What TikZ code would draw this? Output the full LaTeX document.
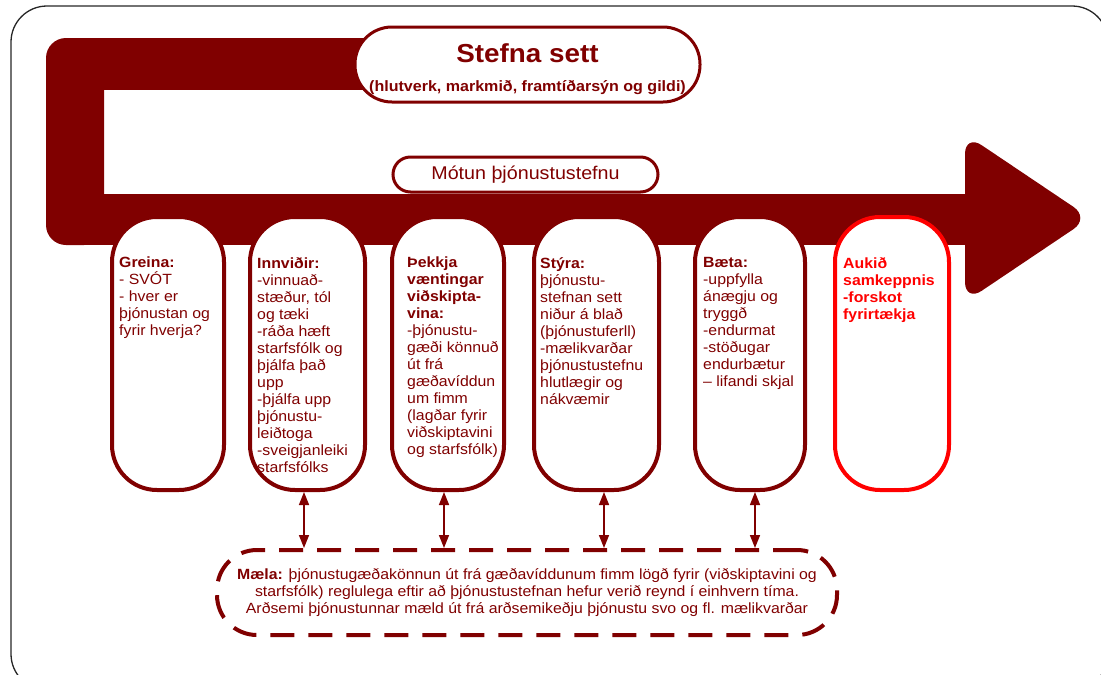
\documentclass[tikz,border=0pt]{standalone}
\usepackage{fontspec}
\setmainfont{Liberation Sans}[FakeStretch=1.07]
\usetikzlibrary{arrows.meta}
\definecolor{maroon}{RGB}{128,0,0}
\definecolor{brightred}{RGB}{255,0,0}
\begin{document}
\begin{tikzpicture}[x=1pt,y=-1pt,
  colbox/.style={draw=maroon, line width=4pt, fill=white, rounded corners=45pt, anchor=north west, inner sep=0pt, minimum height=273pt},
  coltext/.style={anchor=north west, inner sep=0pt, align=left, text=maroon, font=\fontsize{14.8}{17}\selectfont},
  dbl/.style={maroon, line width=1.5pt, {Triangle[length=13pt,width=10pt]}-{Triangle[length=13pt,width=10pt]}},
  pill/.style={draw=maroon, line width=3pt, fill=white},
  dashbox/.style={draw=maroon, line width=4pt, dash pattern=on 24pt off 14pt, rounded corners=40pt, minimum width=620pt, minimum height=85pt, align=center, text=maroon, font=\fontsize{14.8}{17}\selectfont}
]
\useasboundingbox (0,0) rectangle (1101,675);
% outer frame
\draw[line width=1.3pt, draw=black!85, rounded corners=36pt] (11,6) rectangle (1108,690);
% band
\fill[maroon, rounded corners=20pt] (46,38) rectangle (104,245);
\fill[maroon] (80,38) rectangle (400,90);
\fill[maroon] (80,194) rectangle (975,245);
\fill[maroon, rounded corners=20pt] (965,134) -- (1090,218) -- (965,302) -- cycle;
% top pill
\node[pill, rounded corners=37pt, minimum width=345pt, minimum height=75pt] (stefna) at (527.5,64.5) {};
\node[anchor=base, inner sep=0pt, text=maroon, font=\fontsize{26}{28}\selectfont\bfseries] (stefnaT) at (527.5,62) {Stefna sett};
\node[anchor=base, inner sep=0pt, text=maroon, font=\fontsize{15}{17}\selectfont\bfseries] (stefnaS) at (527.5,91) {(hlutverk, markmið, framtíðarsýn og gildi)};
% mid pill
\node[pill, rounded corners=17.5pt, minimum width=265pt, minimum height=35pt, text=maroon, font=\fontsize{18.4}{20}\selectfont] (motun) at (525.5,174.5) {Mótun þjónustustefnu};
% columns
\node[colbox, minimum width=112pt] (b1) at (110,215) {};
\node[colbox, minimum width=115pt] (b2) at (248,215) {};
\node[colbox, minimum width=112pt] (b3) at (390,215) {};
\node[colbox, minimum width=125pt] (b4) at (532,215) {};
\node[colbox, minimum width=110pt] (b5) at (693,215) {};
\node[colbox, minimum width=114pt, draw=brightred] (b6) at (833,215) {};
\node[coltext] (t1) at (119,257) {\textbf{Greina:}\\- SVÓT\\- hver er\\þjónustan og\\fyrir hverja?};
\node[coltext] (t2) at (257,257) {\textbf{Innviðir:}\\-vinnuað-\\stæður, tól\\og tæki\\-ráða hæft\\starfsfólk og\\þjálfa það\\upp\\-þjálfa upp\\þjónustu-\\leiðtoga\\-sveigjanleiki\\starfsfólks};
\node[coltext] (t3) at (407,257) {\textbf{Þekkja}\\\textbf{væntingar}\\\textbf{viðskipta-}\\\textbf{vina:}\\-þjónustu-\\gæði könnuð\\út frá\\gæðavíddun\\um fimm\\(lagðar fyrir\\viðskiptavini\\og starfsfólk)};
\node[coltext] (t4) at (540,257) {\textbf{Stýra:}\\þjónustu-\\stefnan sett\\niður á blað\\(þjónustuferll)\\-mælikvarðar\\þjónustustefnu\\hlutlægir og\\nákvæmir};
\node[coltext] (t5) at (703,257) {\textbf{Bæta:}\\-uppfylla\\ánægju og\\tryggð\\-endurmat\\-stöðugar\\endurbætur\\– lifandi skjal};
\node[coltext, text=brightred, font=\fontsize{14.8}{17}\selectfont\bfseries] (t6) at (843,257) {Aukið\\samkeppnis\\-forskot\\fyrirtækja};
% measure box
\node[dashbox] (m) at (527,592.5) {\textbf{Mæla:} þjónustugæðakönnun út frá gæðavíddunum fimm lögð fyrir (viðskiptavini og\\starfsfólk) reglulega eftir að þjónustustefnan hefur verið reynd í einhvern tíma.\\Arðsemi þjónustunnar mæld út frá arðsemikeðju þjónustu svo og fl. mælikvarðar};
% arrows
\draw[dbl] ([xshift=-3.5pt]b2.south) -- ([xshift=-3.5pt]b2.south |- m.north);
\draw[dbl] ([xshift=-4pt]b3.south) -- ([xshift=-4pt]b3.south |- m.north);
\draw[dbl] ([xshift=7.5pt]b4.south) -- ([xshift=7.5pt]b4.south |- m.north);
\draw[dbl] ([xshift=5pt]b5.south) -- ([xshift=5pt]b5.south |- m.north);
\end{tikzpicture}
\end{document}
